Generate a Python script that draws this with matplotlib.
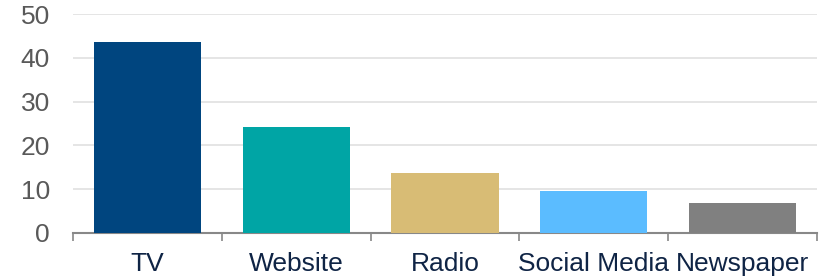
import matplotlib
matplotlib.use("Agg")
import matplotlib.pyplot as plt
import numpy as np

categories = ["TV", "Website", "Radio", "Social Media", "Newspaper"]
values = [43.6, 24.2, 13.7, 9.6, 6.9]
colors = ["#00457F", "#00A5A5", "#D8BC75", "#5BBCFF", "#808080"]
yticks = [0, 10, 20, 30, 40, 50]

plt.rcParams['font.family'] = ['Liberation Sans', 'DejaVu Sans']

fig = plt.figure(figsize=(8.27, 2.8), dpi=100)
ax = fig.add_axes([73 / 827, 1 - 233 / 280, (817 - 73) / 827, (233 - 14) / 280])

x = np.arange(len(categories))
ax.bar(x, values, width=0.72, color=colors, zorder=3)

ax.set_xlim(-0.5, len(categories) - 0.5)
ax.set_ylim(0, 50)
ax.set_yticks(yticks)
ax.set_yticklabels([str(v) for v in yticks], fontsize=19, color="#595959")
ax.tick_params(axis='y', length=0, pad=16.5)
ax.yaxis.grid(True, color="#E0E0E0", linewidth=1.2, zorder=0)
ax.set_axisbelow(True)

ax.set_xticks(x)
ax.set_xticklabels(categories, fontsize=19, color="#0F2445")
ax.tick_params(axis='x', which='major', length=0, pad=14)
ax.set_xticks(np.arange(-0.5, len(categories)), minor=True)
ax.tick_params(axis='x', which='minor', length=6, width=1.2, color="#888888")

for s in ["top", "right", "left"]:
    ax.spines[s].set_visible(False)
ax.spines["bottom"].set_color("#888888")
ax.spines["bottom"].set_linewidth(1.5)

fig.savefig("out.png", dpi=100)
